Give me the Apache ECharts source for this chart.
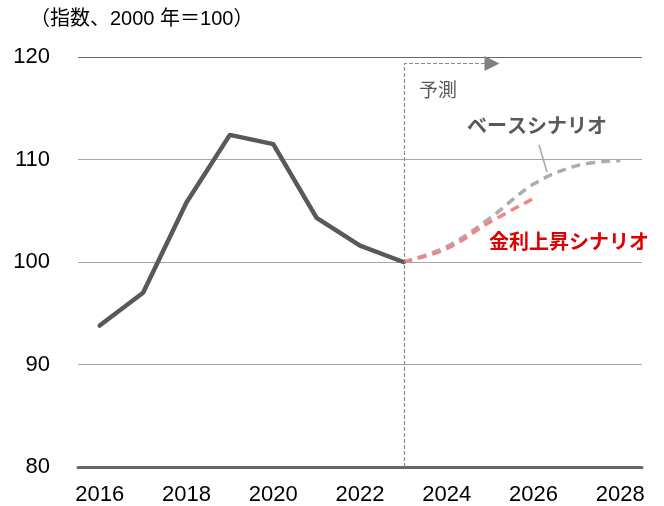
<!DOCTYPE html>
<html><head><meta charset="utf-8">
<script src="https://cdn.jsdelivr.net/npm/echarts@6/dist/echarts.min.js"></script>
<style>html,body{margin:0;padding:0;background:#fff}#c{width:664px;height:506px}</style>
</head><body><div id="c"></div>
<script>
const years = ['2016','2017','2018','2019','2020','2021','2022','2023','2024','2025','2026','2027','2028'];
const actual = [93.8, 97.0, 105.8, 112.4, 111.5, 104.3, 101.6, 100, null, null, null, null, null];
const baseScenario = [null, null, null, null, null, null, null, 100, 101.5, 104.3, 107.6, 109.4, 109.9];
const rateScenario = [null, null, null, null, null, null, null, 100, 101.3, 103.9, 106.2, null, null];
const yTicks = [80, 90, 100, 110, 120];
const unitLabel = '（指数、2000 年＝100）';
const forecastLabel = '予測';
const baseLabel = 'ベースシナリオ';
const rateLabel = '金利上昇シナリオ';
const forecastStart = '2023';

const FONT = '"Liberation Sans", Arial, "Noto Sans CJK JP", sans-serif';
const chart = echarts.init(document.getElementById('c'));
chart.setOption({
  animation: false,
  backgroundColor: '#fff',
  grid: { left: 78, right: 22, top: 57, bottom: 39, containLabel: false },
  xAxis: {
    type: 'category', data: years, boundaryGap: true,
    axisLine: { show: true, lineStyle: { color: '#666', width: 3 } },
    axisTick: { show: false },
    axisLabel: { interval: 1, color: '#000', fontSize: 22, fontFamily: FONT, margin: 17 }
  },
  yAxis: {
    type: 'value', min: yTicks[0], max: yTicks[yTicks.length - 1], interval: 10,
    axisLine: { show: false }, axisTick: { show: false },
    axisLabel: { color: '#000', fontSize: 22, fontFamily: FONT, margin: 28 },
    splitLine: { show: true, lineStyle: { color: ['#a6a6a6', '#a6a6a6', '#a6a6a6', '#a6a6a6', '#666'], width: 1 } }
  },
  series: [
    { name: 'actual', type: 'line', data: actual, showSymbol: false, symbol: 'none',
      lineStyle: { color: '#595959', width: 4.5, cap: 'round', join: 'round' }, z: 5 },
    { name: 'base', type: 'line', data: baseScenario, showSymbol: false, symbol: 'none', smooth: 0.35,
      lineStyle: { color: '#adadad', width: 3.5, type: [9, 6] }, z: 3 },
    { name: 'rate', type: 'line', data: rateScenario, showSymbol: false, symbol: 'none', smooth: 0.35,
      lineStyle: { color: '#f08584', width: 3.5, type: [9, 6] }, z: 4 }
  ]
});

const p0 = chart.convertToPixel({ xAxisIndex: 0, yAxisIndex: 0 }, [forecastStart, 80]);
const pTop = chart.convertToPixel({ xAxisIndex: 0, yAxisIndex: 0 }, [forecastStart, 119.4]);
const xF = Math.round(p0[0]) + 1.5;
const yTop = Math.round(pTop[1]) + 0.5;
chart.setOption({
  graphic: [
    { type: 'text', left: 30, top: 9, style: { text: unitLabel, fontSize: 20, fill: '#000', fontFamily: FONT } },
    { type: 'polyline', z: 10, shape: { points: [[xF, p0[1]], [xF, yTop], [xF + 82, yTop]] },
      style: { stroke: '#8c8c8c', lineWidth: 1.2, lineDash: [4, 2], fill: null } },
    { type: 'polygon', z: 10, shape: { points: [[xF + 80, yTop - 7.5], [xF + 95, yTop], [xF + 80, yTop + 7.5]] },
      style: { fill: '#808080' } },
    { type: 'text', z: 10, x: 419, y: 82, style: { text: forecastLabel, fontSize: 19, fill: '#595959', fontFamily: FONT } },
    { type: 'text', z: 10, x: 467, y: 117, style: { text: baseLabel, fontSize: 20, fontWeight: 'bold', fill: '#595959', fontFamily: FONT } },
    { type: 'line', z: 10, shape: { x1: 539, y1: 145, x2: 547, y2: 172 }, style: { stroke: '#a6a6a6', lineWidth: 1.5 } },
    { type: 'text', z: 10, x: 489, y: 233, style: { text: rateLabel, fontSize: 20, fontWeight: 'bold', fill: '#e00000', fontFamily: FONT } }
  ]
});
</script></body></html>
